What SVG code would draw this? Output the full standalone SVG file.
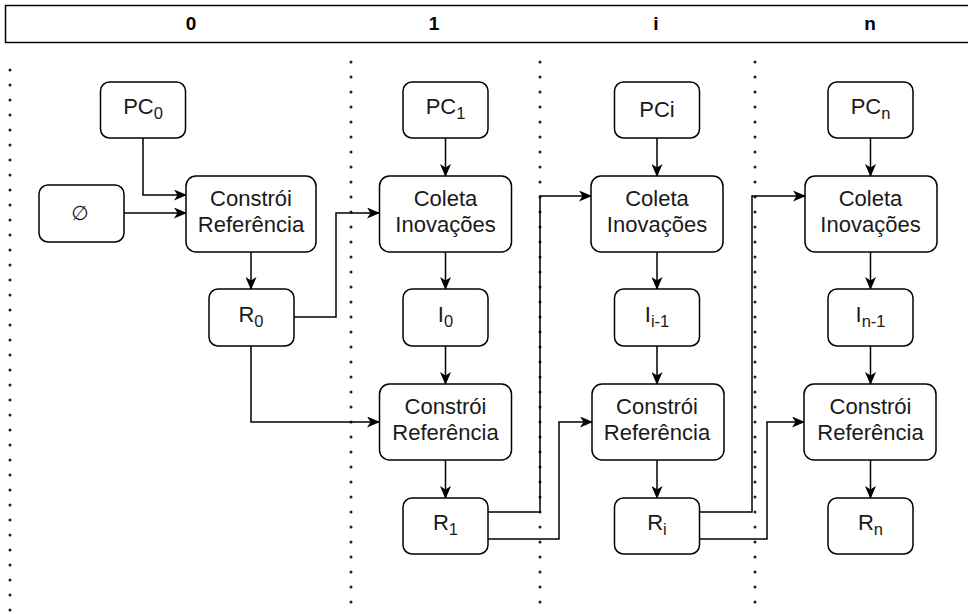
<svg xmlns="http://www.w3.org/2000/svg" width="968" height="614" viewBox="0 0 968 614">
<defs>
<style>
.box{fill:#fff;stroke:#000;stroke-width:1.5}
.t{font-family:"Liberation Sans",Arial,sans-serif;font-size:22px;fill:#1a1a1a;text-anchor:middle}
.s{font-size:16.5px}
.h{font-family:"Liberation Sans",Arial,sans-serif;font-size:19px;font-weight:bold;fill:#000;text-anchor:middle}
.c{fill:none;stroke:#000;stroke-width:1.5}
.dot{fill:none;stroke:#222;stroke-width:3;stroke-linecap:round;stroke-dasharray:0 15}
</style>
<marker id="ar" viewBox="0 0 13 11" refX="12" refY="5.5" markerWidth="13" markerHeight="11" markerUnits="userSpaceOnUse" orient="auto">
<path d="M0,0 L13,5.5 L0,11 L3.5,5.5 Z" fill="#000"/>
</marker>
</defs>
<rect width="968" height="614" fill="#fff"/>

<g id="header">
<rect x="5.5" y="5.5" width="970" height="37" fill="#fff" stroke="#000" stroke-width="1.5"/>
<text class="h" x="191" y="30">0</text>
<text class="h" x="434" y="30">1</text>
<text class="h" x="656" y="30">i</text>
<text class="h" x="870" y="30">n</text>
</g>

<g id="separators">
<line class="dot" x1="10" y1="70" x2="10" y2="614"/>
<line class="dot" x1="351" y1="62" x2="351" y2="614"/>
<line class="dot" x1="540" y1="62" x2="540" y2="614"/>
<line class="dot" x1="755" y1="62" x2="755" y2="614"/>
</g>

<g id="connectors">
<polyline class="c" points="143,138 143,195 186,195" marker-end="url(#ar)"/>
<line class="c" x1="124" y1="213" x2="186" y2="213" marker-end="url(#ar)"/>
<line class="c" x1="251" y1="252" x2="251" y2="289" marker-end="url(#ar)"/>
<polyline class="c" points="294,317 336,317 336,213 379,213" marker-end="url(#ar)"/>
<polyline class="c" points="251,346 251,422 379,422" marker-end="url(#ar)"/>
<line class="c" x1="445.5" y1="138" x2="445.5" y2="176" marker-end="url(#ar)"/>
<line class="c" x1="445.5" y1="252" x2="445.5" y2="289" marker-end="url(#ar)"/>
<line class="c" x1="445.5" y1="346" x2="445.5" y2="384" marker-end="url(#ar)"/>
<line class="c" x1="445.5" y1="460" x2="445.5" y2="498" marker-end="url(#ar)"/>
<polyline class="c" points="488,512 540,512 540,196 591,196" marker-end="url(#ar)"/>
<polyline class="c" points="488,539 559,539 559,422 592,422" marker-end="url(#ar)"/>
<line class="c" x1="657" y1="138" x2="657" y2="176" marker-end="url(#ar)"/>
<line class="c" x1="657" y1="252" x2="657" y2="289" marker-end="url(#ar)"/>
<line class="c" x1="657" y1="346" x2="657" y2="384" marker-end="url(#ar)"/>
<line class="c" x1="657" y1="460" x2="657" y2="498" marker-end="url(#ar)"/>
<polyline class="c" points="700,512 752,512 752,196 805,196" marker-end="url(#ar)"/>
<polyline class="c" points="700,539 767,539 767,422 804,422" marker-end="url(#ar)"/>
<line class="c" x1="870.5" y1="138" x2="870.5" y2="176" marker-end="url(#ar)"/>
<line class="c" x1="870.5" y1="252" x2="870.5" y2="289" marker-end="url(#ar)"/>
<line class="c" x1="870.5" y1="346" x2="870.5" y2="384" marker-end="url(#ar)"/>
<line class="c" x1="870.5" y1="460" x2="870.5" y2="498" marker-end="url(#ar)"/>
</g>

<g id="pc0"><rect class="box" x="100.5" y="82" width="85" height="56" rx="9"/><text class="t" x="143" y="114">PC<tspan class="s" dy="5">0</tspan></text></g>
<g id="empty"><rect class="box" x="39" y="185" width="85" height="57" rx="9"/><text class="t" x="80" y="220" style="font-family:'DejaVu Sans',sans-serif;font-size:20px">∅</text></g>
<g id="cr0"><rect class="box" x="186" y="176" width="130" height="76" rx="10"/><text class="t" x="251" y="206">Constrói</text><text class="t" x="251" y="232">Referência</text></g>
<g id="r0"><rect class="box" x="209" y="289" width="85" height="57" rx="9"/><text class="t" x="251" y="322">R<tspan class="s" dy="5">0</tspan></text></g>

<g id="pc1"><rect class="box" x="403" y="82" width="85" height="56" rx="9"/><text class="t" x="445.5" y="114">PC<tspan class="s" dy="5">1</tspan></text></g>
<g id="col1"><rect class="box" x="379.5" y="176" width="132" height="76" rx="10"/><text class="t" x="445.5" y="206">Coleta</text><text class="t" x="445.5" y="232">Inovações</text></g>
<g id="i0"><rect class="box" x="403" y="289" width="85" height="57" rx="9"/><text class="t" x="445.5" y="322">I<tspan class="s" dy="5">0</tspan></text></g>
<g id="cr1"><rect class="box" x="379.5" y="384" width="132" height="76" rx="10"/><text class="t" x="445.5" y="414">Constrói</text><text class="t" x="445.5" y="440">Referência</text></g>
<g id="r1"><rect class="box" x="403" y="498" width="85" height="56" rx="9"/><text class="t" x="445.5" y="530">R<tspan class="s" dy="5">1</tspan></text></g>

<g id="pci"><rect class="box" x="614.5" y="82" width="85" height="56" rx="9"/><text class="t" x="657" y="117">PCi</text></g>
<g id="coli"><rect class="box" x="591" y="176" width="132" height="76" rx="10"/><text class="t" x="657" y="206">Coleta</text><text class="t" x="657" y="232">Inovações</text></g>
<g id="ii"><rect class="box" x="614.5" y="289" width="85" height="57" rx="9"/><text class="t" x="657" y="322">I<tspan class="s" dy="5">i-1</tspan></text></g>
<g id="cri"><rect class="box" x="592" y="384" width="132" height="76" rx="10"/><text class="t" x="657" y="414">Constrói</text><text class="t" x="657" y="440">Referência</text></g>
<g id="ri"><rect class="box" x="614.5" y="498" width="85" height="56" rx="9"/><text class="t" x="657" y="530">R<tspan class="s" dy="5">i</tspan></text></g>

<g id="pcn"><rect class="box" x="828" y="82" width="85" height="56" rx="9"/><text class="t" x="870.5" y="114">PC<tspan class="s" dy="5">n</tspan></text></g>
<g id="coln"><rect class="box" x="805" y="176" width="132" height="76" rx="10"/><text class="t" x="870.5" y="206">Coleta</text><text class="t" x="870.5" y="232">Inovações</text></g>
<g id="in"><rect class="box" x="828" y="289" width="85" height="57" rx="9"/><text class="t" x="870.5" y="322">I<tspan class="s" dy="5">n-1</tspan></text></g>
<g id="crn"><rect class="box" x="804" y="384" width="132" height="76" rx="10"/><text class="t" x="870.5" y="414">Constrói</text><text class="t" x="870.5" y="440">Referência</text></g>
<g id="rn"><rect class="box" x="828" y="498" width="85" height="56" rx="9"/><text class="t" x="870.5" y="530">R<tspan class="s" dy="5">n</tspan></text></g>
</svg>
